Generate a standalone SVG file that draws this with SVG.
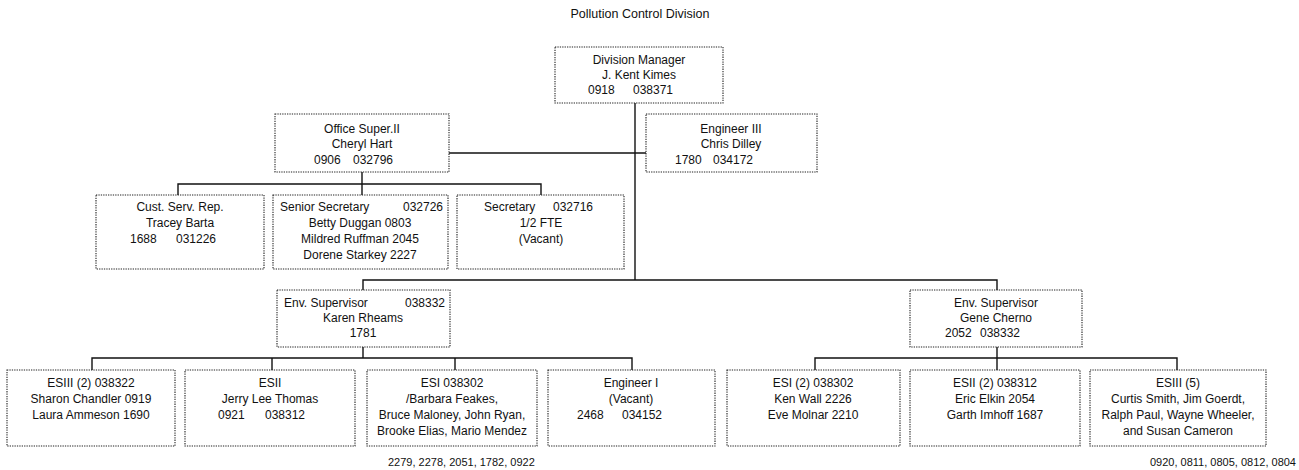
<svg xmlns="http://www.w3.org/2000/svg" width="1299" height="470" viewBox="0 0 1299 470">
<style>
.box{fill:#fff;stroke:#222;stroke-width:1.1;stroke-dasharray:1.3 1.1}
.ln{fill:none;stroke:#111;stroke-width:1.4}
text{font-family:"Liberation Sans",Arial,sans-serif;font-size:12px;fill:#111}
.c{text-anchor:middle}
.e{text-anchor:end}
.ttl{font-size:12.5px}
.ft{font-size:11px}
</style>
<rect width="1299" height="470" fill="#fff"/>
<text class="c ttl" x="640" y="18">Pollution Control Division</text>

<g id="connectors">
<path class="ln" d="M635,103 V280"/>
<path class="ln" d="M449,153 H646"/>
<path class="ln" d="M362,172 V195"/>
<path class="ln" d="M178,195 V184 H541 V195"/>
<path class="ln" d="M363,290 V280 H997 V290"/>
<path class="ln" d="M363,347 V358"/>
<path class="ln" d="M92,370 V358 H632 V370"/>
<path class="ln" d="M272,358 V370 M455,358 V370"/>
<path class="ln" d="M997,347 V370"/>
<path class="ln" d="M815,370 V358 H1177 V370"/>
</g>

<g id="division-manager">
<rect class="box" x="555" y="47" width="168" height="56"/>
<text class="c" x="639" y="64">Division Manager</text>
<text class="c" x="639" y="79">J. Kent Kimes</text>
<text x="588" y="94">0918</text><text x="633" y="94">038371</text>
</g>

<g id="office-super">
<rect class="box" x="275" y="114" width="174" height="58"/>
<text class="c" x="362" y="133">Office Super.II</text>
<text class="c" x="362" y="148">Cheryl Hart</text>
<text x="314" y="164">0906</text><text x="353" y="164">032796</text>
</g>

<g id="engineer-iii">
<rect class="box" x="646" y="114" width="171" height="58"/>
<text class="c" x="731" y="133">Engineer III</text>
<text class="c" x="731" y="148">Chris Dilley</text>
<text x="675" y="164">1780</text><text x="713" y="164">034172</text>
</g>

<g id="cust-serv">
<rect class="box" x="96" y="195" width="168" height="74"/>
<text class="c" x="180" y="211">Cust. Serv. Rep.</text>
<text class="c" x="180" y="227">Tracey Barta</text>
<text x="130" y="243">1688</text><text x="176" y="243">031226</text>
</g>

<g id="senior-secretary">
<rect class="box" x="273" y="195" width="175" height="74"/>
<text x="280" y="211">Senior Secretary</text><text class="e" x="443" y="211">032726</text>
<text class="c" x="360" y="227">Betty Duggan  0803</text>
<text class="c" x="360" y="243">Mildred Ruffman 2045</text>
<text class="c" x="360" y="259">Dorene Starkey 2227</text>
</g>

<g id="secretary">
<rect class="box" x="457" y="195" width="167" height="74"/>
<text x="484" y="211">Secretary</text><text x="553" y="211">032716</text>
<text class="c" x="541" y="227">1/2 FTE</text>
<text class="c" x="541" y="243">(Vacant)</text>
</g>

<g id="env-supervisor-rheams">
<rect class="box" x="277" y="290" width="173" height="57"/>
<text x="284" y="307">Env. Supervisor</text><text class="e" x="445" y="307">038332</text>
<text class="c" x="363" y="322">Karen Rheams</text>
<text class="c" x="363" y="337">1781</text>
</g>

<g id="env-supervisor-cherno">
<rect class="box" x="910" y="290" width="172" height="57"/>
<text class="c" x="996" y="307">Env. Supervisor</text>
<text class="c" x="996" y="322">Gene Cherno</text>
<text x="945" y="337">2052</text><text x="980" y="337">038332</text>
</g>

<g id="esiii-2">
<rect class="box" x="7" y="370" width="168" height="76"/>
<text class="c" x="91" y="387">ESIII (2) 038322</text>
<text class="c" x="91" y="403">Sharon Chandler  0919</text>
<text class="c" x="91" y="419">Laura Ammeson 1690</text>
</g>

<g id="esii-thomas">
<rect class="box" x="185" y="370" width="170" height="76"/>
<text class="c" x="270" y="387">ESII</text>
<text class="c" x="270" y="403">Jerry Lee Thomas</text>
<text x="218" y="419">0921</text><text x="265" y="419">038312</text>
</g>

<g id="esi-038302">
<rect class="box" x="367" y="370" width="170" height="76"/>
<text class="c" x="452" y="387">ESI 038302</text>
<text class="c" x="452" y="403">/Barbara Feakes,</text>
<text class="c" x="452" y="419">Bruce Maloney, John Ryan,</text>
<text class="c" x="452" y="435">Brooke Elias, Mario Mendez</text>
</g>

<g id="engineer-i">
<rect class="box" x="548" y="370" width="167" height="76"/>
<text class="c" x="631" y="387">Engineer I</text>
<text class="c" x="631" y="403">(Vacant)</text>
<text x="577" y="419">2468</text><text x="622" y="419">034152</text>
</g>

<g id="esi-2">
<rect class="box" x="727" y="370" width="173" height="76"/>
<text class="c" x="813" y="387">ESI  (2) 038302</text>
<text class="c" x="813" y="403">Ken Wall  2226</text>
<text class="c" x="813" y="419">Eve Molnar 2210</text>
</g>

<g id="esii-2">
<rect class="box" x="910" y="370" width="170" height="76"/>
<text class="c" x="995" y="387">ESII (2) 038312</text>
<text class="c" x="995" y="403">Eric Elkin  2054</text>
<text class="c" x="995" y="419">Garth Imhoff 1687</text>
</g>

<g id="esiii-5">
<rect class="box" x="1090" y="370" width="176" height="76"/>
<text class="c" x="1178" y="387">ESIII (5)</text>
<text class="c" x="1178" y="403">Curtis Smith, Jim Goerdt,</text>
<text class="c" x="1178" y="419">Ralph Paul, Wayne Wheeler,</text>
<text class="c" x="1178" y="435">and Susan Cameron</text>
</g>

<text class="ft" x="388" y="466">2279, 2278, 2051, 1782, 0922</text>
<text class="ft e" x="1296" y="466">0920, 0811, 0805, 0812, 0804</text>
</svg>
